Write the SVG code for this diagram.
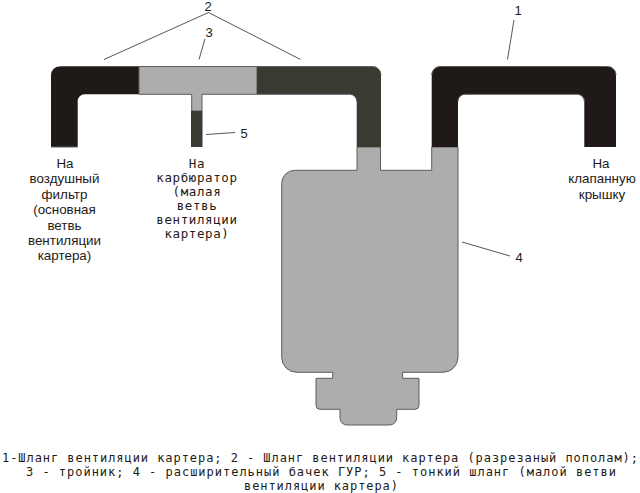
<svg xmlns="http://www.w3.org/2000/svg" width="640" height="493" viewBox="0 0 640 493">
<style>
.o{stroke:#5f5d5a;stroke-width:1}
.k{fill:#1f1a17}
.d{fill:#3a3a32}
.g{fill:#adadad}
.l{fill:none;stroke:#2a2a2a;stroke-width:.8}
text{fill:#1f1a17;text-anchor:middle}
.s{font:13.4px "Liberation Sans",Arial,sans-serif}
.n{font:13px "Liberation Sans",Arial,sans-serif}
.m{font:12.500px "DejaVu Sans Mono",monospace;letter-spacing:.6px}
.c{font:12px "DejaVu Sans Mono",monospace}
</style>
<rect width="640" height="493" fill="#fff"/>
<g id="tank"><path class="g o" d="M357 147H380.500V170.300H431.700V147H458V357.300A15 15 0 0 1 443 372.300H402.700V378.300H419V405.300A4 4 0 0 1 415 409.300H396.700V418A7 7 0 0 1 389.700 425H347A7 7 0 0 1 340 418V409.300H320A4 4 0 0 1 316 405.300V378.300H332.700V372.300H296.700A15 15 0 0 1 281.700 357.300V183.300A13 13 0 0 1 294.700 170.300H357Z"/></g>
<g id="hose-2-left"><path class="k" d="M51 147V75A8.500 8.500 0 0 1 59.500 66.500H139V94.300H84.700A7 7 0 0 0 77.700 101.300V147Z"/><path d="M77.700 147H51M139 66.500H59.500" class="o" fill="none"/></g>
<g id="tee"><path class="g o" d="M139 66.500H257V94.300H202V111H191.700V94.300H139Z"/></g>
<g id="hose-2-right"><path class="d" d="M257 66.500H372.500A8.500 8.500 0 0 1 381 75V147H356.700V101.300A7 7 0 0 0 349.700 94.300H257Z"/><path d="M257 66.500H372.500A8.500 8.500 0 0 1 381 75M257 94.300H349.700A7 7 0 0 1 356.700 101.300" class="o" fill="none"/></g>
<g id="hose-5"><rect class="d" x="191" y="111" width="11.500" height="36"/></g>
<g id="hose-1"><path class="k" d="M431.700 147V75A8.500 8.500 0 0 1 440.200 66.500H607.500A8.500 8.500 0 0 1 616 75V147H584.300V101.300A7 7 0 0 0 577.300 94.300H465A7 7 0 0 0 458 101.300V147Z"/><path d="M431.700 75A8.500 8.500 0 0 1 440.200 66.500H607.500A8.500 8.500 0 0 1 616 75M458 101.300A7 7 0 0 1 465 94.300H577.300A7 7 0 0 1 584.300 101.300" class="o" fill="none"/></g>
<g id="connectors">
<path class="l" d="M104 59.500L208.500 12.500L300.500 59.500"/>
<path class="l" d="M205 39L199 59.500"/>
<path class="l" d="M206 134.500L235 132.500"/>
<path class="l" d="M514 20L507.500 59.500"/>
<path class="l" d="M462 242L510 256"/>
</g>
<g id="labels">
<text class="n" x="208" y="10.500">2</text>
<text class="n" x="209" y="37">3</text>
<text class="n" x="244" y="138">5</text>
<text class="n" x="518" y="15">1</text>
<text class="n" x="519" y="262">4</text>
<g class="s"><text x="65" y="168">На</text><text x="64.500" y="183">воздушный</text><text x="64.500" y="199">фильтр</text><text x="64.500" y="214">(основная</text><text x="64.500" y="230">ветвь</text><text x="64.500" y="245">вентиляции</text><text x="64.500" y="260">картера)</text></g>
<g class="m"><text x="197" y="168">На</text><text x="197" y="182">карбюратор</text><text x="197" y="196">(малая</text><text x="197" y="210">ветвь</text><text x="197" y="224">вентиляции</text><text x="197" y="238">картера)</text></g>
<g class="s"><text x="601" y="168">На</text><text x="602" y="183">клапанную</text><text x="602" y="199">крышку</text></g>
<g class="c"><text x="320" y="462" textLength="636" lengthAdjust="spacing">1-Шланг вентиляции картера; 2 - Шланг вентиляции картера (разрезаный пополам);</text><text x="321" y="476" textLength="590" lengthAdjust="spacing">3 - тройник; 4 - расширительный бачек ГУР; 5 - тонкий шланг (малой ветви</text><text x="321" y="490" textLength="154" lengthAdjust="spacing">вентиляции картера)</text></g>
</g>
</svg>
